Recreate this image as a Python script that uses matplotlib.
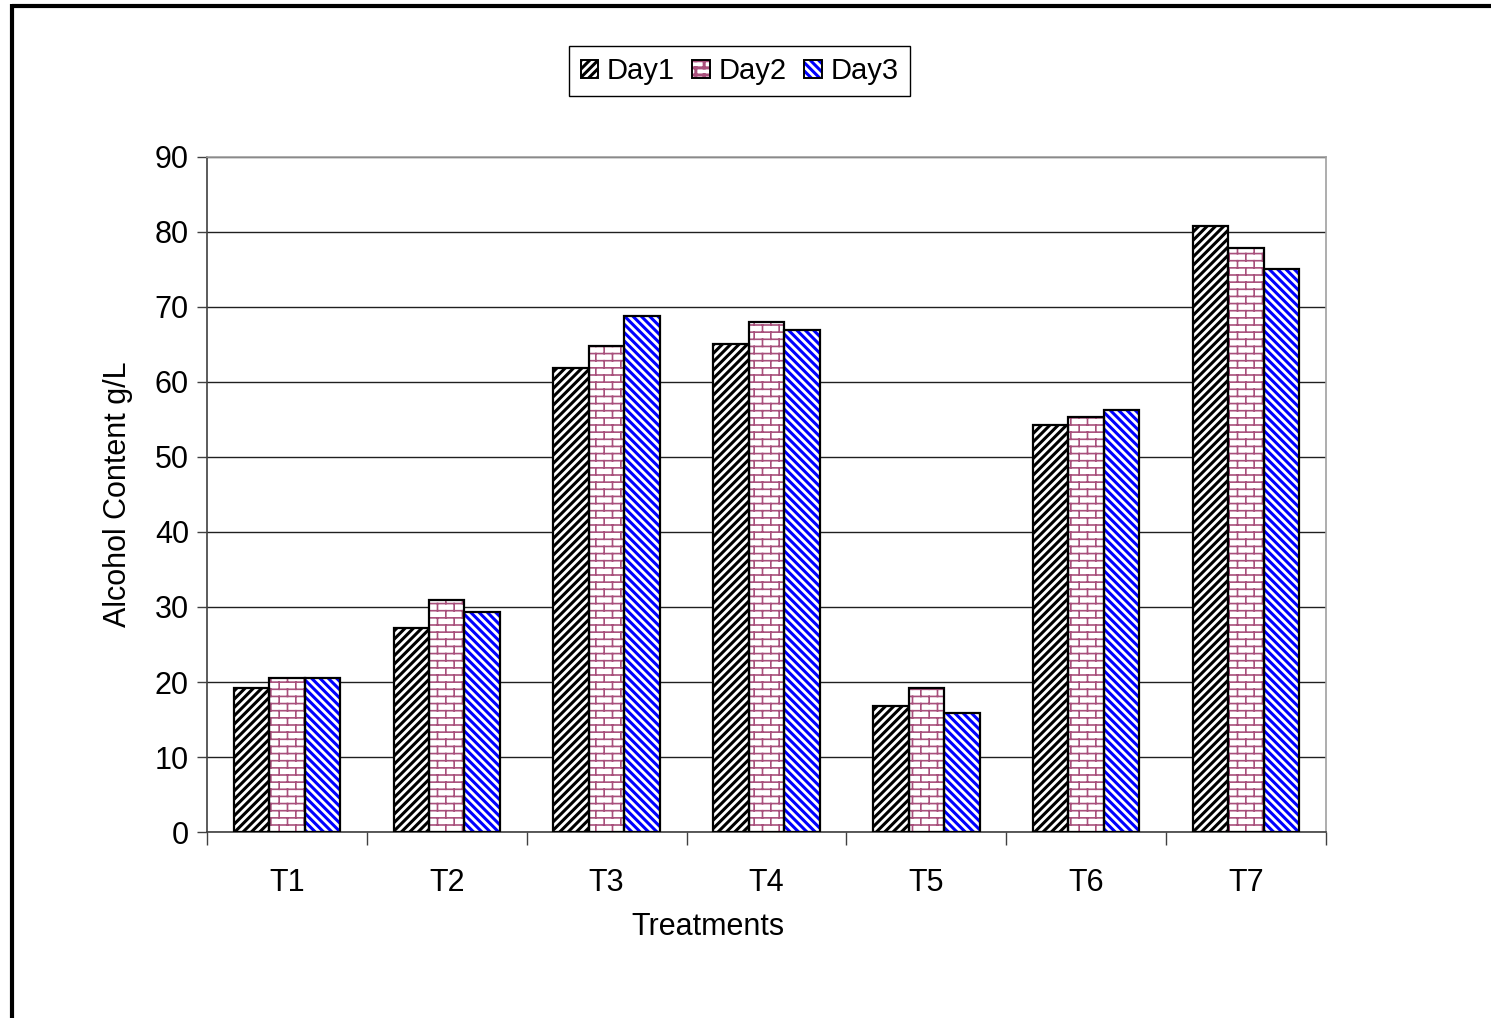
import numpy as np
import matplotlib
matplotlib.use("Agg")
import matplotlib.pyplot as plt
from matplotlib import hatch as mhatch
from matplotlib.path import Path
from matplotlib.patches import Patch
from matplotlib.legend_handler import HandlerTuple

# ---- data ----
treatments = ["T1", "T2", "T3", "T4", "T5", "T6", "T7"]
series_names = ["Day1", "Day2", "Day3"]
day1 = [19.2, 27.2, 61.9, 65.1, 16.8, 54.2, 80.8]
day2 = [20.5, 30.9, 64.8, 68.0, 19.2, 55.3, 77.9]
day3 = [20.5, 29.3, 68.8, 66.9, 15.9, 56.3, 75.0]
y_ticks = [0, 10, 20, 30, 40, 50, 60, 70, 80, 90]


# ---- brick hatch pattern, bound to the '.' hatch character ----
class BrickHatch(mhatch.HatchPatternBase):
    def __init__(self, hatch, density):
        n = hatch.count('.')
        segs = []
        if n:
            rows, cols = 14 * n, 6 * n
            h = 1.0 / rows
            for i in range(rows):
                y0 = (i + 0.5) * h
                segs.append(((0.0, y0), (1.0, y0)))
                y1 = y0 + h
                off = 0.5 if i % 2 else 0.0
                for k in range(cols):
                    x = (k + off + 0.25) / cols
                    if y1 <= 1.0:
                        segs.append(((x, y0), (x, y1)))
                    else:
                        segs.append(((x, y0), (x, 1.0)))
                        segs.append(((x, 0.0), (x, y1 - 1.0)))
        self.segs = segs
        self.num_vertices = 2 * len(segs)

    def set_vertices_and_codes(self, vertices, codes):
        for j, (a, b) in enumerate(self.segs):
            vertices[2 * j] = a
            vertices[2 * j + 1] = b
            codes[2 * j] = Path.MOVETO
            codes[2 * j + 1] = Path.LINETO


mhatch._hatch_types = [t for t in mhatch._hatch_types
                       if t is not mhatch.SmallFilledCircles] + [BrickHatch]

plt.rcParams['font.family'] = ['Liberation Sans', 'DejaVu Sans']

fig = plt.figure(figsize=(14.91, 10.18), dpi=100)
ax = fig.add_axes([0.1388, 0.1827, 0.7505, 0.6631])

x = np.arange(len(treatments))
width = 0.222
styles = [
    dict(hatch='////', color='black', lw=2.2),
    dict(hatch='.', color='#a8507c', lw=1.2),
    dict(hatch='\\\\\\\\', color='#0000ff', lw=2.2),
]
handles = []
for i, (vals, st) in enumerate(zip([day1, day2, day3], styles)):
    pos = x + (i - 1) * width
    plt.rcParams['hatch.linewidth'] = st['lw']
    ax.bar(pos, vals, width, facecolor='white', edgecolor=st['color'],
           hatch=st['hatch'], linewidth=0, zorder=3)
    ax.bar(pos, vals, width, fill=False, edgecolor='black',
           linewidth=1.6, zorder=4)
    hp = Patch(facecolor='white', edgecolor=st['color'], hatch=st['hatch'],
               linewidth=0)
    op = Patch(fill=False, edgecolor='black', linewidth=1.4)
    handles.append((hp, op))

ax.set_xlim(-0.5, len(treatments) - 0.5)
ax.set_ylim(0, 90)
ax.set_yticks(y_ticks)
ax.set_xticks(x)
ax.set_xticklabels(treatments)
ax.set_xticks(np.arange(-0.5, len(treatments), 1.0), minor=True)
ax.tick_params(axis='x', which='major', length=0, labelsize=22, pad=26)
ax.tick_params(axis='x', which='minor', length=9, width=1, color='#404040',
               direction='out')
ax.tick_params(axis='y', length=7, width=1, color='#404040', labelsize=22,
               pad=6)
ax.yaxis.grid(True, color='#202020', linewidth=1.0, zorder=0)
ax.set_axisbelow(True)

for side in ('top', 'right'):
    ax.spines[side].set_color('#a0a0a0')
    ax.spines[side].set_linewidth(1.2)
for side in ('left', 'bottom'):
    ax.spines[side].set_color('#404040')
    ax.spines[side].set_linewidth(1.2)

ax.set_xlabel('Treatments', fontsize=22, labelpad=10)
ax.xaxis.set_label_coords(0.448, -0.118)
ax.set_ylabel('Alcohol Content g/L', fontsize=22, labelpad=16)

leg = fig.legend(handles, series_names, loc='center',
                 bbox_to_anchor=(0.496, 0.930), ncol=3, fontsize=21,
                 handler_map={tuple: HandlerTuple(ndivide=1, pad=0)},
                 handlelength=0.6, handleheight=0.6, handletextpad=0.3,
                 columnspacing=0.6, borderpad=0.38, fancybox=False,
                 framealpha=1, edgecolor='black')
leg.get_frame().set_linewidth(1.0)

# outer frame lines (top and left edges)
fig.add_artist(plt.Line2D([12 / 1491, 1.0], [1 - 6 / 1018, 1 - 6 / 1018],
                          transform=fig.transFigure, color='black',
                          linewidth=3.0, solid_capstyle='butt'))
fig.add_artist(plt.Line2D([12 / 1491, 12 / 1491], [0.0, 1 - 4 / 1018],
                          transform=fig.transFigure, color='black',
                          linewidth=3.0, solid_capstyle='butt'))

fig.savefig('out.png', dpi=100)
